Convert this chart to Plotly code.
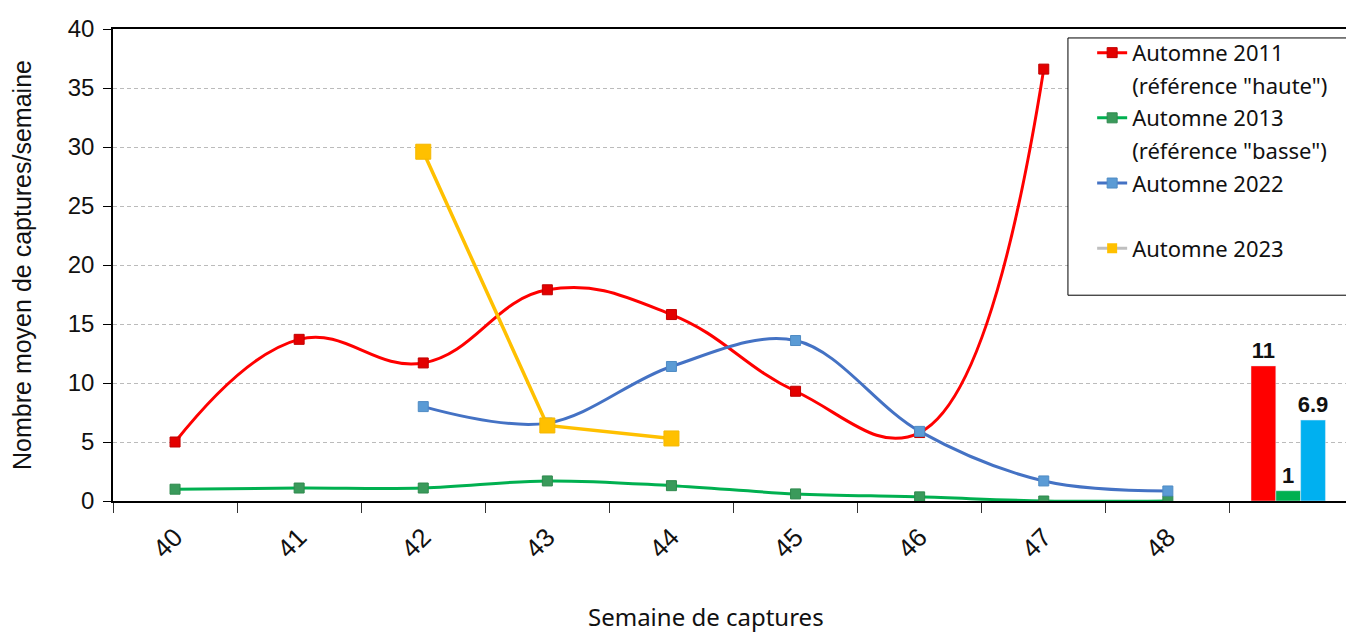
import plotly.graph_objects as go

weeks = [40, 41, 42, 43, 44, 45, 46, 47, 48]
week_labels = ["40", "41", "42", "43", "44", "45", "46", "47", "48"]

autumn_2011 = [5.0, 13.7, 11.7, 17.9, 15.8, 9.3, 5.8, 36.6, None]
autumn_2013 = [1.0, 1.1, 1.1, 1.7, 1.3, 0.6, 0.35, 0.0, 0.0]
autumn_2022 = [None, None, 8.0, 6.6, 11.4, 13.6, 5.9, 1.7, 0.85]
autumn_2023 = [None, None, 29.6, 6.4, 5.3, None, None, None, None]

# season means shown as bars after week 48
summary_x = 49
summary_values = [11.45, 0.87, 6.86]
summary_labels = ["11", "1", "6.9"]
summary_colors = ["#FF0000", "#00B050", "#00B0F0"]

fig = go.Figure()


def legend_text(name, group):
    # extra legend line without a symbol (keeps Excel-like line spacing)
    fig.add_trace(go.Scatter(
        x=[None], y=[None], mode="markers", name=name, legendgroup=group,
        marker=dict(color="rgba(0,0,0,0)", size=1), hoverinfo="skip",
    ))


fig.add_trace(go.Scatter(
    x=weeks, y=autumn_2011, mode="lines+markers",
    name="Automne 2011", legendgroup="a",
    line=dict(color="#FF0000", width=3, shape="spline", smoothing=1.2),
    marker=dict(symbol="square", size=10, color="#E30000",
                line=dict(color="#C00000", width=1)),
))
legend_text('(référence "haute")', "b")
fig.add_trace(go.Scatter(
    x=weeks, y=autumn_2013, mode="lines+markers", line_shape="spline",
    name="Automne 2013", legendgroup="c",
    line=dict(color="#00B050", width=3),
    marker=dict(symbol="square", size=10, color="#3A9A5B",
                line=dict(color="#2F8A4E", width=1)),
))
legend_text('(référence "basse")', "d")
fig.add_trace(go.Scatter(
    x=weeks, y=autumn_2022, mode="lines+markers", line_shape="spline",
    name="Automne 2022", legendgroup="e",
    line=dict(color="#4472C4", width=3),
    marker=dict(symbol="square", size=10, color="#5B9BD5",
                line=dict(color="#4F8BC4", width=1)),
))
legend_text(" ", "f")
fig.add_trace(go.Scatter(
    x=weeks, y=autumn_2023, mode="lines+markers", showlegend=False,
    line=dict(color="#FFC000", width=3.5),
    marker=dict(symbol="square", size=15, color="#FFC000",
                line=dict(color="#F5B800", width=1)),
))
# legend entry for 2023 (grey line in the original legend)
fig.add_trace(go.Scatter(
    x=[None], y=[None], mode="lines+markers", name="Automne 2023", legendgroup="g",
    line=dict(color="#BFBFBF", width=3),
    marker=dict(symbol="square", size=10, color="#FFC000"),
))

offsets = [-0.33, -0.13, 0.07]
for val, lab, col, off in zip(summary_values, summary_labels, summary_colors, offsets):
    fig.add_trace(go.Bar(
        x=[summary_x], y=[val], width=0.2, offset=off, marker_color=col,
        text=[lab], textposition="outside", cliponaxis=False, constraintext="none",
        textfont=dict(family="Liberation Sans", size=22, color="#111111", weight="bold"),
        showlegend=False,
    ))

fig.add_annotation(
    text="Semaine de captures", xref="paper", yref="paper",
    x=0.478, y=-0.245, xanchor="center", yanchor="middle", showarrow=False,
    font=dict(family="Noto Sans", size=24, color="#111111"),
)

# legend frame, drawn separately to get the wide left padding
fig.add_shape(
    type="rect", xref="paper", yref="paper",
    x0=0.7695, x1=0.998, y0=0.436, y1=0.981,
    line=dict(color="black", width=1), fillcolor="white", layer="above",
)

# page body has an 8px margin, so the margins are shifted by 8px
fig.update_layout(
    width=1354, height=634,
    margin=dict(l=105, r=8, t=21, b=141),
    plot_bgcolor="white", paper_bgcolor="white",
    font=dict(family="Liberation Sans", color="#222222"),
    barmode="overlay",
    legend=dict(
        x=0.789, y=0.994, xanchor="left", yanchor="top",
        borderwidth=0, bgcolor="rgba(0,0,0,0)",
        font=dict(family="Noto Sans", size=22, color="#111111"),
        itemwidth=30, traceorder="grouped", tracegroupgap=1,
    ),
    xaxis=dict(
        range=[39.5, 49.5], tickvals=weeks, ticktext=week_labels,
        tickangle=-45, ticks="", showgrid=False, zeroline=False,
        showline=True, linecolor="black", linewidth=1.5, mirror=True,
        tickfont=dict(family="Liberation Sans", size=26, color="#111111"),
        ticklabelstandoff=9,
        minor=dict(tick0=39.5, dtick=1, ticks="outside", ticklen=10,
                   tickcolor="#333333", showgrid=False),
        automargin=False,
    ),
    yaxis=dict(
        range=[0, 40], dtick=5, ticks="outside", ticklen=8, tickcolor="black",
        showline=True, linecolor="black", linewidth=1.5,
        showgrid=True, gridcolor="#BBBBBB", griddash="4px,3px", gridwidth=1,
        zeroline=False, automargin=False, ticklabelstandoff=4,
        tickfont=dict(family="Liberation Sans", size=24, color="#111111"),
        title=dict(text="Nombre moyen de captures/semaine", standoff=32,
                   font=dict(family="Liberation Sans", size=25, color="#111111")),
    ),
)

fig.write_html("out.html")
